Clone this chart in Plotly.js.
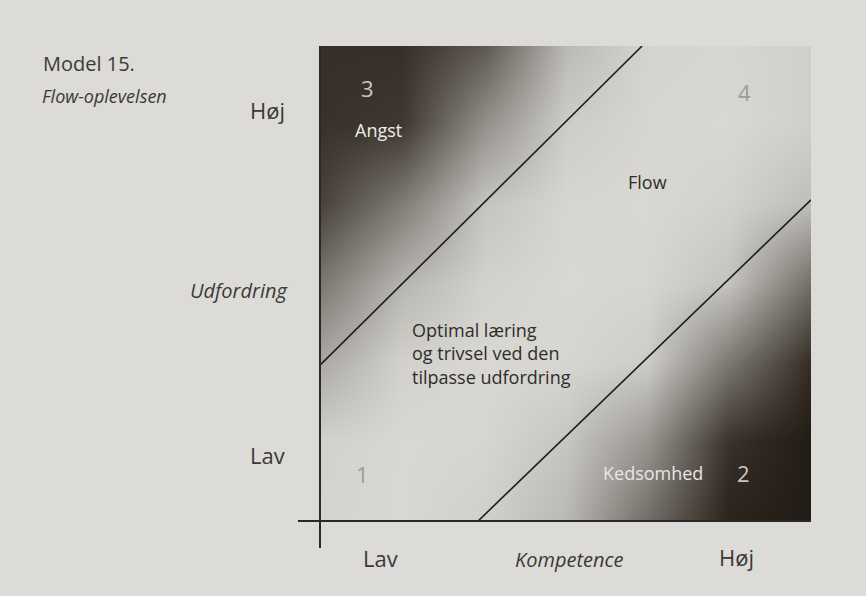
<!DOCTYPE html>
<html>
<head>
<meta charset="utf-8">
<script src="https://cdn.plot.ly/plotly-3.0.1.min.js"></script>
<style>html,body{margin:0;padding:0;background:#dcdbd7;}#chart{width:866px;height:596px;}</style>
</head>
<body>
<div id="chart"></div>
<script>
// Shading grid (gray level 0-255), rows from bottom (low challenge) to top
const gridX = [0, 1/6, 2/6, 3/6, 4/6, 5/6, 1];
const gridY = [0, 1/6, 2/6, 3/6, 4/6, 5/6, 1];
const shade = [
  [212, 216, 208, 185, 110, 35, 25],
  [210, 216, 214, 198, 150, 50, 25],
  [170, 210, 216, 214, 205, 120, 45],
  [120, 182, 210, 216, 214, 195, 110],
  [66, 125, 196, 214, 216, 210, 190],
  [50, 56, 145, 205, 214, 216, 208],
  [48, 48, 88, 185, 212, 214, 208]
];
// Boundary lines (competence, challenge)
const upperLineX = [0, 0.656];
const upperLineY = [0.328, 1];
const lowerLineX = [0.322, 1];
const lowerLineY = [0, 0.676];

const title = "Model 15.";
const subtitle = "Flow-oplevelsen";
const yTitle = "Udfordring";
const xTitle = "Kompetence";
const lowLabel = "Lav";
const highLabel = "Høj";
const zoneNumbers = ["1", "2", "3", "4"];
const zoneNames = ["Optimal læring<br>og trivsel ved den<br>tilpasse udfordring", "Kedsomhed", "Angst", "Flow"];

const FONT = '"Open Sans", "DejaVu Sans", sans-serif';
const TXT = '#3a3937';

const traces = [
  {type: 'heatmap', x: gridX, y: gridY, z: shade, zsmooth: 'best', zmin: 0, zmax: 255,
   colorscale: [[0, 'rgb(10,8,5)'], [0.16, 'rgb(48,40,32)'], [0.5, 'rgb(130,127,121)'], [1, 'rgb(255,254,250)']],
   showscale: false, hoverinfo: 'skip'},
  {type: 'scatter', mode: 'lines', x: upperLineX, y: upperLineY, line: {color: '#1e1d1c', width: 1.6}, hoverinfo: 'skip'},
  {type: 'scatter', mode: 'lines', x: lowerLineX, y: lowerLineY, line: {color: '#1e1d1c', width: 1.6}, hoverinfo: 'skip'}
];

function ann(text, x, y, size, color, opts) {
  return Object.assign({text: text, x: x, y: y, xref: 'paper', yref: 'paper', showarrow: false,
    xanchor: 'center', yanchor: 'middle', font: {family: FONT, size: size, color: color}}, opts || {});
}

const annotations = [
  ann(title, -0.568, 0.964, 20, TXT, {xanchor: 'left'}),
  ann('<i>' + subtitle + '</i>', -0.570, 0.895, 18, TXT, {xanchor: 'left'}),
  ann(highLabel, -0.106, 0.865, 22, TXT),
  ann('<i>' + yTitle + '</i>', -0.061, 0.486, 20, TXT, {xanchor: 'right'}),
  ann(lowLabel, -0.106, 0.139, 22, TXT),
  ann(lowLabel, 0.124, -0.078, 22, TXT),
  ann('<i>' + xTitle + '</i>', 0.509, -0.082, 20, TXT),
  ann(highLabel, 0.849, -0.076, 22, TXT),
  // zones
  ann(zoneNumbers[2], 0.096, 0.912, 22, 'rgb(200,198,195)'),
  ann(zoneNames[2], 0.120, 0.823, 18, 'rgb(238,237,234)'),
  ann(zoneNumbers[3], 0.864, 0.903, 22, 'rgb(158,156,152)'),
  ann(zoneNames[3], 0.668, 0.714, 18, '#2e2d2b'),
  ann(zoneNames[0], 0.183, 0.352, 18, '#2e2d2b', {xanchor: 'left', align: 'left'}),
  ann(zoneNumbers[0], 0.086, 0.099, 22, 'rgb(158,156,152)'),
  ann(zoneNames[1], 0.678, 0.101, 18, 'rgb(232,231,228)'),
  ann(zoneNumbers[1], 0.863, 0.101, 22, 'rgb(200,198,195)')
];

const layout = {
  width: 866, height: 596,
  margin: {l: 320, r: 55, t: 46, b: 75, pad: 0},
  paper_bgcolor: '#dcdbd7', plot_bgcolor: '#dcdbd7',
  showlegend: false,
  xaxis: {range: [0, 1], visible: false, fixedrange: true},
  yaxis: {range: [0, 1], visible: false, fixedrange: true},
  annotations: annotations,
  shapes: [
    {type: 'line', xref: 'paper', yref: 'paper', x0: 0, x1: 0, y0: -0.057, y1: 1, line: {color: '#2a2927', width: 2}},
    {type: 'line', xref: 'paper', yref: 'paper', x0: -0.045, x1: 1, y0: 0, y1: 0, line: {color: '#2a2927', width: 2}}
  ]
};

Plotly.newPlot('chart', traces, layout, {displayModeBar: false, staticPlot: true});
</script>
</body>
</html>
